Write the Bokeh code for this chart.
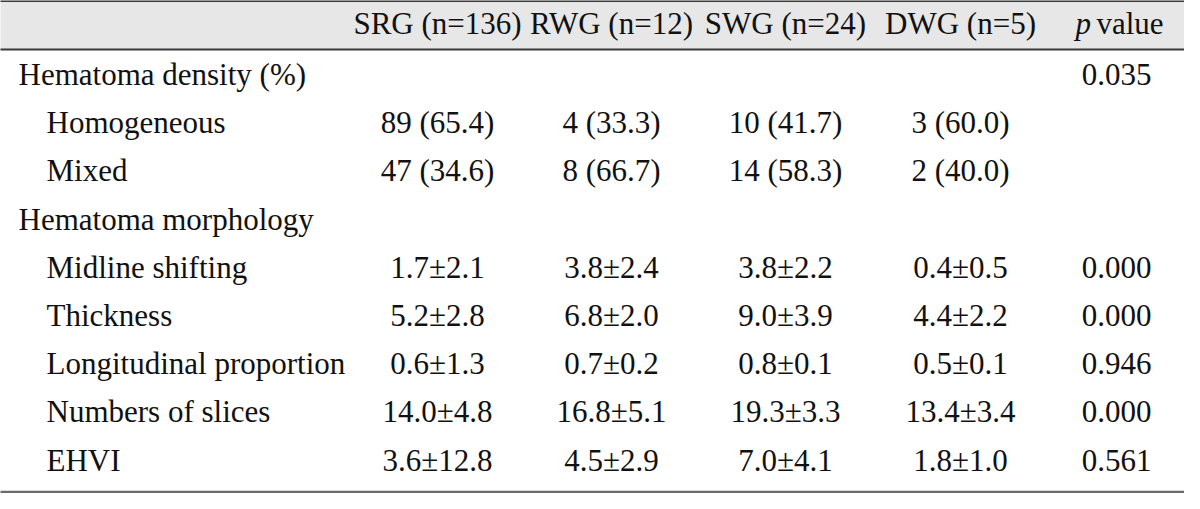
from bokeh.plotting import figure
from bokeh.models import ColumnDataSource, Range1d
from bokeh.core.properties import value
from bokeh.embed import file_html
from bokeh.resources import INLINE

# ---- table data ----
headers = ["SRG (n=136)", "RWG (n=12)", "SWG (n=24)", "DWG (n=5)"]
row_labels = ["Hematoma density (%)", "Homogeneous", "Mixed",
              "Hematoma morphology", "Midline shifting", "Thickness",
              "Longitudinal proportion", "Numbers of slices", "EHVI"]
row_levels = [0, 1, 1, 0, 1, 1, 1, 1, 1]
srg = ["", "89 (65.4)", "47 (34.6)", "", "1.7±2.1", "5.2±2.8", "0.6±1.3", "14.0±4.8", "3.6±12.8"]
rwg = ["", "4 (33.3)", "8 (66.7)", "", "3.8±2.4", "6.8±2.0", "0.7±0.2", "16.8±5.1", "4.5±2.9"]
swg = ["", "10 (41.7)", "14 (58.3)", "", "3.8±2.2", "9.0±3.9", "0.8±0.1", "19.3±3.3", "7.0±4.1"]
dwg = ["", "3 (60.0)", "2 (40.0)", "", "0.4±0.5", "4.4±2.2", "0.5±0.1", "13.4±3.4", "1.8±1.0"]
p_values = ["0.035", "", "", "", "0.000", "0.000", "0.946", "0.000", "0.561"]

# ---- layout (page pixel coordinates) ----
W, H = 1184, 493
FONT = value("Liberation Serif")
FS = "31px"
INK = "#111111"
col_centers = [445, 619, 793, 968]
p_center = 1124
row_y0, row_step = 82, 48.2
header_y = 31
label_x = [26, 54]

p = figure(width=W, height=H, output_backend="svg", toolbar_location=None,
           x_range=Range1d(8, 8 + W), y_range=Range1d(8 + H, 8),
           min_border=0, background_fill_color="white", border_fill_color="white")
p.axis.visible = False
p.grid.visible = False
p.outline_line_color = None

# header band and rules
p.quad(left=[6], right=[1194], top=[8.5], bottom=[57], fill_color="#e7e7e7", line_color=None)
p.segment(x0=[6], x1=[1194], y0=[8.5], y1=[8.5], line_color="#3a3a3a", line_width=2)
p.segment(x0=[6], x1=[1194], y0=[57], y1=[57], line_color="#3a3a3a", line_width=2)
p.segment(x0=[6], x1=[1194], y0=[499.5], y1=[499.5], line_color="#6a6a6a", line_width=2.5)

# header texts
p.text(x=col_centers, y=[header_y] * 4, text=headers, text_font=FONT, text_font_size=FS,
       text_align="center", text_baseline="middle", text_color=INK)
p.text(x=[1083], y=[header_y], text=["p"], text_font=FONT, text_font_size=FS,
       text_font_style="italic", text_align="left", text_baseline="middle", text_color=INK)
p.text(x=[1104], y=[header_y], text=["value"], text_font=FONT, text_font_size=FS,
       text_align="left", text_baseline="middle", text_color=INK)

ys = [row_y0 + i * row_step for i in range(len(row_labels))]
src = ColumnDataSource(dict(
    y=ys, label=row_labels, lx=[label_x[l] for l in row_levels],
    srg=srg, rwg=rwg, swg=swg, dwg=dwg, pv=p_values))

p.text(x="lx", y="y", text="label", source=src, text_font=FONT, text_font_size=FS,
       text_align="left", text_baseline="middle", text_color=INK)
for cx, col in zip(col_centers + [p_center], ["srg", "rwg", "swg", "dwg", "pv"]):
    p.text(x=cx, y="y", text=col, source=src, text_font=FONT, text_font_size=FS,
           text_align="center", text_baseline="middle", text_color=INK)

open("out.html", "w").write(file_html(p, INLINE))
